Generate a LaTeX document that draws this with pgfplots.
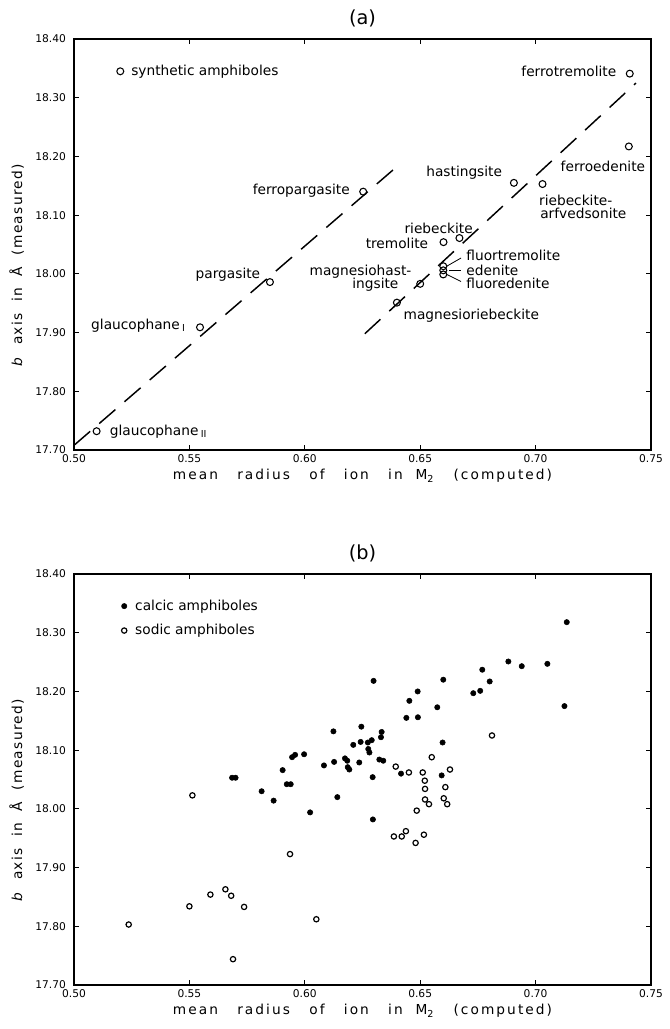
\documentclass[border=0pt]{standalone}
\usepackage{fontspec}
\setmainfont{DejaVu Sans}
\usepackage{pgfplots}
\pgfplotsset{compat=1.18}
\newcommand\lab{\fontsize{10.3}{12}\selectfont}
\newcommand\xlabtext{{\addfontfeatures{LetterSpace=15}mean\ \ \ radius\ \ \ of\ \ \ ion\ \ \ in\ \ M\textsubscript{2}\ \ \ (computed)}}
\newcommand\ylabtext{{\addfontfeatures{LetterSpace=10}\textit{b}\ \ axis\ \ in\ \ Å\ \ (measured)}}
\pgfplotsset{
  panel/.style={
    width=432.75pt, height=308.25pt, scale only axis,
    xmin=0.5, xmax=0.75, ymin=17.7, ymax=18.4,
    xtick={0.5,0.55,0.6,0.65,0.7,0.75},
    xticklabels={0.50,0.55,0.60,0.65,0.70,0.75},
    ytick={17.7,17.8,17.9,18.0,18.1,18.2,18.3,18.4},
    yticklabels={17.70,17.80,17.90,18.00,18.10,18.20,18.30,18.40},
    tick label style={font=\fontsize{8}{9}\selectfont},
    yticklabel style={xshift=-2.5pt},
    axis line style={line width=0.9pt},
    tick style={line width=0.8pt,black},
    major tick length=4pt,
    xlabel={\xlabtext}, ylabel={\ylabtext},
    xlabel style={at={(axis description cs:0.5,0)}, anchor=center, yshift=-19.5pt, font=\lab},
    ylabel style={at={(axis description cs:0,0.45)}, anchor=center, yshift=43pt, font=\lab},
    title style={at={(axis description cs:0.5,1)}, anchor=center, yshift=9.5pt, font=\fontsize{14.5}{16}\selectfont},
    legend style={draw=none, fill=none, font=\lab, inner sep=0pt, cells={anchor=west}},
    legend image code/.code={\path[draw=none,fill=none] (0cm,-0.05cm) rectangle (0.32cm,0.05cm);\draw[mark repeat=2,mark phase=2,##1] plot coordinates {(0cm,0cm) (0.1cm,0cm) (0.2cm,0cm)};},
    clip=false,
  }
}
\begin{document}
\begin{tikzpicture}
\path[use as bounding box] (-55.5pt,-434.25pt) rectangle (446.25pt,337.5pt);
% ---------------- panel (a) ----------------
\begin{axis}[panel, at={(0pt,0pt)}, anchor=south west, title={(a)},
  legend style={at={(axis cs:0.5183,18.345)}, anchor=west}]
\addplot[only marks, mark=o, mark size=2.6pt, mark options={line width=0.8pt}, black] coordinates {
(0.5098,17.732) (0.5546,17.909) (0.5849,17.986) (0.6253,18.140)
(0.6399,17.951) (0.6500,17.983) (0.6601,18.054) (0.6670,18.061)
(0.6600,18.013) (0.6600,18.006) (0.6600,17.999) (0.6906,18.155)
(0.7030,18.153) (0.7404,18.217) (0.7408,18.341)};
\addlegendentry{synthetic amphiboles}
\addplot[no markers, black, line width=1.1pt, dash pattern=on 16pt off 9pt] coordinates {(0.500,17.708) (0.640,18.183)};
\addplot[no markers, black, line width=1.1pt, dash pattern=on 16pt off 9pt] coordinates {(0.626,17.898) (0.7435,18.325)};
\node[font=\lab, anchor=east] at (axis cs:0.737,18.345) {ferrotremolite};
\node[font=\lab, anchor=east] at (axis cs:0.7495,18.183) {ferroedenite};
\node[font=\lab, anchor=east] at (axis cs:0.6875,18.172) {hastingsite};
\node[font=\lab, anchor=west] at (axis cs:0.6995,18.126) {riebeckite-};
\node[font=\lab, anchor=west] at (axis cs:0.7000,18.103) {arfvedsonite};
\node[font=\lab, anchor=east] at (axis cs:0.6215,18.142) {ferropargasite};
\node[font=\lab, anchor=center] at (axis cs:0.658,18.078) {riebeckite};
\node[font=\lab, anchor=east] at (axis cs:0.6555,18.052) {tremolite};
\node[font=\lab, anchor=west] at (axis cs:0.668,18.031) {fluortremolite};
\node[font=\lab, anchor=west] at (axis cs:0.668,18.006) {edenite};
\node[font=\lab, anchor=west] at (axis cs:0.668,17.984) {fluoredenite};
\node[font=\lab, anchor=east] at (axis cs:0.6482,18.003) {magnesiohast-};
\node[font=\lab, anchor=east] at (axis cs:0.6426,17.982) {ingsite};
\node[font=\lab, anchor=west] at (axis cs:0.6408,17.929) {magnesioriebeckite};
\node[font=\lab, anchor=east] at (axis cs:0.5827,17.998) {pargasite};
\node[font=\lab, anchor=east] at (axis cs:0.5504,17.912) {glaucophane\,$_{\mathrm{I}}$};
\node[font=\lab, anchor=west] at (axis cs:0.5135,17.732) {glaucophane\,$_{\mathrm{II}}$};
\draw[line width=0.6pt] (axis cs:0.6615,18.013) -- (axis cs:0.6677,18.027);
\draw[line width=0.6pt] (axis cs:0.6625,18.006) -- (axis cs:0.6677,18.006);
\draw[line width=0.6pt] (axis cs:0.6615,17.999) -- (axis cs:0.6677,17.987);
\end{axis}
% ---------------- panel (b) ----------------
\begin{axis}[panel, at={(0pt,-401.25pt)}, anchor=south west, title={(b)},
  legend style={at={(axis cs:0.5200,18.3245)}, anchor=west, row sep=5pt}]
\addplot[only marks, mark=*, mark size=2pt, black] coordinates {
(0.5685,18.053) (0.5700,18.053) (0.5813,18.030) (0.5865,18.014)
(0.5904,18.066) (0.5922,18.042) (0.5939,18.042) (0.5945,18.088)
(0.5958,18.092) (0.5997,18.093) (0.6023,17.994) (0.6083,18.074)
(0.6127,18.080) (0.6141,18.020) (0.6174,18.086) (0.6184,18.082)
(0.6186,18.071) (0.6193,18.067) (0.6124,18.132) (0.6210,18.109)
(0.6236,18.079) (0.6242,18.114) (0.6245,18.140) (0.6273,18.113)
(0.6290,18.117) (0.6275,18.102) (0.6280,18.096) (0.6294,18.054)
(0.6295,17.982) (0.6298,18.218) (0.6323,18.084) (0.6340,18.082)
(0.6333,18.131) (0.6330,18.122) (0.6417,18.060) (0.6440,18.155)
(0.6453,18.184) (0.6490,18.156) (0.6489,18.200) (0.6574,18.173)
(0.6593,18.057) (0.6597,18.113) (0.6600,18.220) (0.6730,18.197)
(0.6760,18.201) (0.6769,18.237) (0.6801,18.217) (0.6882,18.251)
(0.6940,18.243) (0.7051,18.247) (0.7125,18.175) (0.7135,18.318)};
\addlegendentry{calcic amphiboles}
\addplot[only marks, mark=o, mark size=2pt, mark options={line width=0.9pt}, black] coordinates {
(0.5237,17.803) (0.5500,17.834) (0.5513,18.023) (0.5591,17.854)
(0.5656,17.863) (0.5681,17.852) (0.5737,17.833) (0.5689,17.744)
(0.5936,17.923) (0.6050,17.812) (0.6394,18.072) (0.6451,18.062)
(0.6511,18.062) (0.6629,18.067) (0.6550,18.088) (0.6520,18.048)
(0.6521,18.034) (0.6609,18.037) (0.6521,18.016) (0.6538,18.008)
(0.6602,18.018) (0.6617,18.008) (0.6485,17.997) (0.6438,17.962)
(0.6386,17.953) (0.6420,17.953) (0.6516,17.956) (0.6480,17.942)
(0.6811,18.125)};
\addlegendentry{sodic amphiboles}
\end{axis}
\end{tikzpicture}
\end{document}
